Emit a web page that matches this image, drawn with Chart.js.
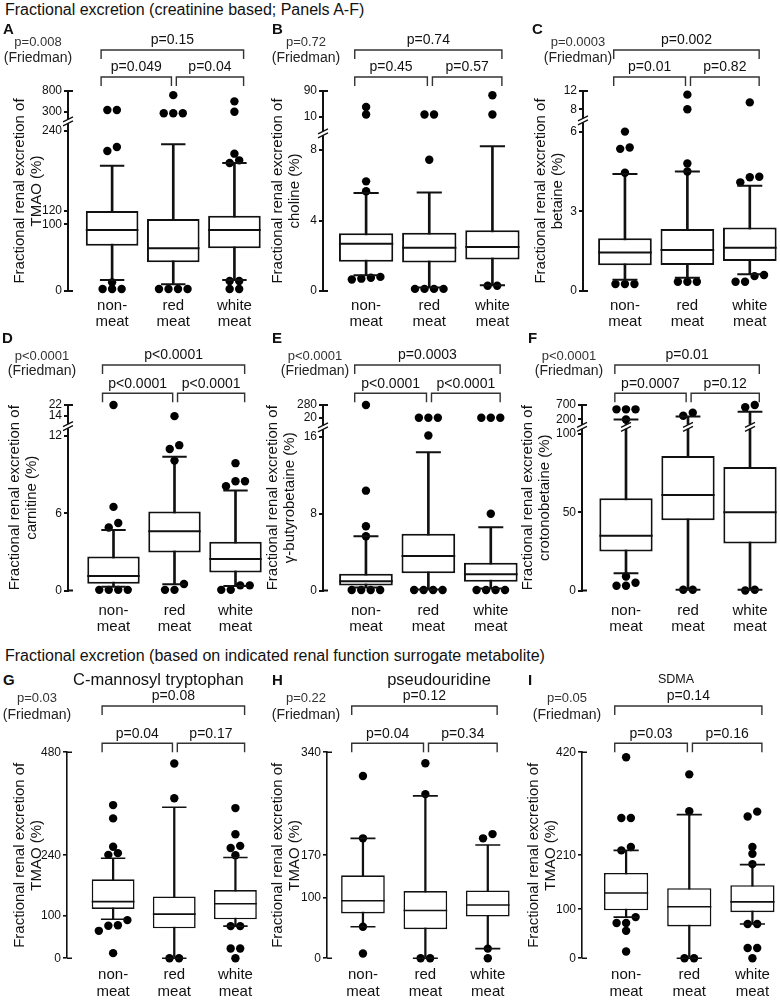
<!DOCTYPE html>
<html>
<head>
<meta charset="utf-8">
<script src="https://cdn.jsdelivr.net/npm/chart.js@4.4.1/dist/chart.umd.min.js"></script>
<style>
  html, body { margin: 0; padding: 0; background: #fff; overflow: hidden; }
  body { position: relative; width: 780px; height: 1001px; font-family: 'Liberation Sans', Arial, sans-serif; color: #111; }
  canvas { position: absolute; }
  .txt { position: absolute; white-space: nowrap; line-height: 1; }
</style>
</head>
<body>
<div class="txt" style="left:5px;top:2px;font-size:16px">Fractional excretion (creatinine based; Panels A-F)</div>
<div class="txt" style="left:5px;top:648px;font-size:16px">Fractional excretion (based on indicated renal function surrogate metabolite)</div>
<script>
const FONT = "'Liberation Sans', Arial, sans-serif";
const groups = [['non-', 'meat'], ['red', 'meat'], ['white', 'meat']];
const axisLead = 'Fractional renal excretion of';

// stats per group: [lower whisker, Q1, median, Q3, upper whisker]
// A - TMAO
const tmaoStats = [[16.5, 68, 91.5, 120, 188], [10, 43, 64, 108, 220], [16.5, 64, 91.5, 113, 192]];
const tmaoOutliers = [[3, 3, 3, 13, 210, 216, 340, 340], [3, 3, 3, 3, 295, 295, 295, 700], [3, 3, 15, 15, 192, 196, 206, 300, 550]];
const tmaoTicks = [0, 100, 120, 240, 300, 800];
const tmaoBreak = [240, 300, 800];
const tmaoPairs = ['p=0.15', 'p=0.049', 'p=0.04'];

// B - choline
const cholineStats = [[0.9, 1.66, 2.68, 3.27, 5.56], [0.2, 1.62, 2.45, 3.3, 5.59], [0.32, 1.79, 2.5, 3.45, 8.22]];
const cholineOutliers = [[0.65, 0.7, 0.75, 0.8, 5.66, 6.22, 17, 40], [0.12, 0.12, 0.12, 0.12, 7.45, 17, 17], [0.3, 0.3, 17, 77]];
const cholineTicks = [0, 4, 8, 10, 90];
const cholineBreak = [8, 10, 90];
const cholinePairs = ['p=0.74', 'p=0.45', 'p=0.57'];

// C - betaine
const betaineStats = [[0.42, 0.97, 1.45, 1.99, 4.4], [0.5, 0.98, 1.54, 2.33, 4.5], [0.63, 1.13, 1.63, 2.39, 3.96]];
const betaineOutliers = [[0.26, 0.26, 0.26, 4.45, 5.35, 5.4, 6.0], [0.35, 0.35, 0.35, 4.5, 4.8, 8, 11.2], [0.35, 0.35, 0.56, 0.6, 4.09, 4.28, 4.3, 9.5]];
const betaineTicks = [0, 3, 6, 8, 12];
const betaineBreak = [6, 8, 12];
const betainePairs = ['p=0.002', 'p=0.01', 'p=0.82'];

// D - carnitine
const carnitineStats = [[0.3, 0.53, 1.13, 2.65, 4.7], [0.48, 2.95, 4.6, 6.15, 10.4], [0.35, 1.39, 2.44, 3.8, 7.77]];
const carnitineOutliers = [[0.05, 0.05, 0.05, 0.05, 4.9, 5.25, 6.5, 22], [0.05, 0.05, 0.5, 10.1, 11.0, 11.3, 14], [0.05, 0.05, 0.4, 0.4, 8.1, 8.5, 8.5, 9.9]];
const carnitineTicks = [0, 6, 12, 14, 22];
const carnitineBreak = [12, 14, 22];
const carnitinePairs = ['p<0.0001', 'p<0.0001', 'p<0.0001'];

// E - gamma-butyrobetaine
const gbbStats = [[0.3, 0.52, 0.97, 1.75, 5.65], [0.1, 1.8, 3.6, 5.9, 14.4], [0.2, 0.9, 1.7, 2.9, 6.6]];
const gbbOutliers = [[0.05, 0.05, 0.05, 0.05, 5.65, 6.7, 10.4, 280], [0.05, 0.05, 0.05, 0.05, 16.3, 20, 20, 20], [0.05, 0.05, 0.05, 0.05, 8, 20, 20, 20]];
const gbbTicks = [0, 8, 16, 20, 280];
const gbbBreak = [16, 20, 280];
const gbbPairs = ['p=0.0003', 'p<0.0001', 'p<0.0001'];

// F - crotonobetaine
const crotonStats = [[11, 25, 35, 59, 200], [0.5, 45, 61, 86, 305], [0.5, 30, 50, 79, 466]];
const crotonOutliers = [[3, 3, 5, 9, 200, 550, 550, 550], [0.5, 0.5, 326, 431], [0, 0.5, 620, 700]];
const crotonTicks = [0, 50, 100, 200, 700];
const crotonBreak = [100, 200, 700];
const crotonPairs = ['p=0.01', 'p=0.0007', 'p=0.12'];

// G - TMAO by C-mannosyl tryptophan
const cmtStats = [[91, 115, 132, 184, 233], [0, 70, 103, 144, 352], [75, 91, 127, 159, 235]];
const cmtOutliers = [[12, 64, 76, 77, 89, 241, 245, 260, 326, 357], [0, 0, 373, 454], [0, 23, 23, 75, 75, 240, 257, 262, 289, 350]];
const cmtTicks = [0, 100, 240, 480];
const cmtPairs = ['p=0.08', 'p=0.04', 'p=0.17'];

// H - TMAO by pseudouridine
const pseudoStats = [[52, 74, 95, 137, 198], [0, 48, 79, 111, 268], [16, 69, 88, 112, 187]];
const pseudoOutliers = [[8, 52, 198, 301], [0, 0, 271, 322], [0, 16, 198, 205]];
const pseudoTicks = [0, 100, 170, 340];
const pseudoPairs = ['p=0.12', 'p=0.04', 'p=0.34'];

// I - TMAO by SDMA
const sdmaStats = [[84, 98, 133, 174, 220], [0, 65, 105, 143, 293], [70, 94, 115, 149, 191]];
const sdmaOutliers = [[14, 56, 72, 72, 84, 220, 227, 286, 286, 410], [0, 0, 300, 375], [0, 21, 21, 70, 70, 192, 213, 227, 289, 299]];
const sdmaTicks = [0, 100, 210, 420];
const sdmaPairs = ['p=0.14', 'p=0.03', 'p=0.16'];

const friedman = ['p=0.008', 'p=0.72', 'p=0.0003', 'p<0.0001', 'p<0.0001', 'p<0.0001', 'p=0.03', 'p=0.22', 'p=0.05'];

// layout
const rows = [
  { top: 28, chartTop: 91, chartBottom: 291, bottom: 340, bTop: 50, bLow: 77, pad: 6.5, boxPct: 0.86, lw: 2, frGap: 15 },
  { top: 340, chartTop: 405, chartBottom: 590.5, bottom: 645, bTop: 365, bLow: 393.3, pad: 11.7, boxPct: 0.86, lw: 2, frGap: 15 },
  { top: 688, chartTop: 752.3, chartBottom: 958.3, bottom: 1001, bTop: 706, bLow: 743.3, pad: 8.8, boxPct: 0.7, lw: 1.6, frGap: 16.5 }
];

const panels = [
  { id: 'A', row: 0, stats: tmaoStats, out: tmaoOutliers, ticks: tmaoTicks, brk: tmaoBreak, frac: [0.8, 0.0965], pairs: tmaoPairs, unit: 'TMAO (%)', left: 8, axis: 68, c0: 112, d: 61, lx: 3, fx: 38 },
  { id: 'B', row: 0, stats: cholineStats, out: cholineOutliers, ticks: cholineTicks, brk: cholineBreak, frac: [0.705, 0.1665], pairs: cholinePairs, unit: 'choline (%)', left: 266, axis: 323, c0: 366, d: 63, lx: 272, fx: 306 },
  { id: 'C', row: 0, stats: betaineStats, out: betaineOutliers, ticks: betaineTicks, brk: betaineBreak, frac: [0.797, 0.112], pairs: betainePairs, unit: 'betaine (%)', left: 529, axis: 583, c0: 625, d: 62.5, lx: 532, fx: 578 },
  { id: 'D', row: 1, stats: carnitineStats, out: carnitineOutliers, ticks: carnitineTicks, brk: carnitineBreak, frac: [0.832, 0.108], pairs: carnitinePairs, unit: 'carnitine (%)', left: 3, axis: 68, c0: 113.5, d: 61, lx: 2, fx: 42 },
  { id: 'E', row: 1, stats: gbbStats, out: gbbOutliers, ticks: gbbTicks, brk: gbbBreak, frac: [0.828, 0.103], pairs: gbbPairs, unit: 'γ-butyrobetaine (%)', left: 261, axis: 323, c0: 366, d: 62.5, lx: 272, fx: 315 },
  { id: 'F', row: 1, stats: crotonStats, out: crotonOutliers, ticks: crotonTicks, brk: crotonBreak, frac: [0.843, 0.079], pairs: crotonPairs, unit: 'crotonobetaine (%)', left: 516, axis: 582, c0: 626, d: 62, lx: 528, fx: 569 },
  { id: 'G', row: 2, stats: cmtStats, out: cmtOutliers, ticks: cmtTicks, pairs: cmtPairs, unit: 'TMAO (%)', left: 8, axis: 67, c0: 113, d: 61, lx: 3, fx: 37, sub: ['C-mannosyl tryptophan', 153, 16.5] },
  { id: 'H', row: 2, stats: pseudoStats, out: pseudoOutliers, ticks: pseudoTicks, pairs: pseudoPairs, unit: 'TMAO (%)', left: 266, axis: 327, c0: 363, d: 62.5, lx: 272, fx: 306, sub: ['pseudouridine', 439, 16.5] },
  { id: 'I', row: 2, stats: sdmaStats, out: sdmaOutliers, ticks: sdmaTicks, pairs: sdmaPairs, unit: 'TMAO (%)', left: 522, axis: 582, c0: 626, d: 63, lx: 528, fx: 567, sub: ['SDMA', 676, 12.5] }
];

function addText(str, x, y, size, extra) {
  const el = document.createElement('div');
  el.className = 'txt';
  el.textContent = str;
  el.style.fontSize = size + 'px';
  el.style.top = (y - size / 2) + 'px';
  if (extra && extra.center) {
    el.style.left = (x - 80) + 'px';
    el.style.width = '160px';
    el.style.textAlign = 'center';
  } else {
    el.style.left = x + 'px';
  }
  if (extra && extra.bold) el.style.fontWeight = 'bold';
  if (extra && extra.color) el.style.color = extra.color;
  document.body.appendChild(el);
}

// maps a value onto 0..1 of the (possibly broken) axis
function makeScale(P) {
  if (!P.brk) {
    const top = P.ticks[P.ticks.length - 1];
    return v => v / top;
  }
  const [L, U, T] = P.brk, [f1, fg] = P.frac, fu = 1 - f1 - fg;
  return v => v <= L ? v / L * f1 : v < U ? f1 + (v - L) / (U - L) * fg : f1 + fg + (v - U) / (T - U) * fu;
}

// put outliers that would overlap side by side
function spread(values, tf, h, step) {
  const pts = values.map(v => ({ v, f: tf(v) })).sort((a, b) => a.f - b.f);
  const res = [];
  let cl = [];
  const flush = () => {
    cl.forEach((p, k) => res.push({ v: p.v, dx: (k - (cl.length - 1) / 2) * step }));
    cl = [];
  };
  pts.forEach(p => {
    if (cl.length && (p.f - cl[cl.length - 1].f) * h > 6) flush();
    cl.push(p);
  });
  flush();
  return res;
}

function extras(P, R, tf) {
  const gapMid = P.brk ? P.frac[0] + P.frac[1] / 2 : null;
  const slashes = (ctx, cx, cy) => {
    ctx.save();
    ctx.fillStyle = '#fff';
    ctx.fillRect(cx - 6, cy - 2, 12, 4);
    ctx.lineWidth = 1.3;
    ctx.beginPath();
    [-2, 2].forEach(o => { ctx.moveTo(cx - 5, cy + o + 2.5); ctx.lineTo(cx + 5, cy + o - 2.5); });
    ctx.stroke();
    ctx.restore();
  };
  return {
    id: 'boxExtras',
    afterDatasetsDraw(chart) {
      const { ctx, chartArea: a, scales: { x, y } } = chart;
      const boxes = chart.getDatasetMeta(1).data;
      ctx.save();
      ctx.strokeStyle = '#111';
      ctx.lineWidth = R.lw;
      P.stats.forEach((s, i) => {
        const cx = x.getPixelForValue(i);
        const hw = boxes[i].width / 2;
        const cw = P.d * 0.2;
        ctx.beginPath();
        const ym = y.getPixelForValue(tf(s[2]));
        ctx.moveTo(cx - hw, ym);
        ctx.lineTo(cx + hw, ym);
        [s[0], s[4]].forEach(v => {
          const yy = y.getPixelForValue(tf(v));
          ctx.moveTo(cx - cw, yy);
          ctx.lineTo(cx + cw, yy);
        });
        ctx.stroke();
        if (P.brk && s[3] < P.brk[0] && s[4] >= P.brk[1]) slashes(ctx, cx, y.getPixelForValue(gapMid));
      });
      ctx.beginPath();
      ctx.moveTo(a.left, a.top); ctx.lineTo(a.left + 5, a.top);
      ctx.moveTo(a.left, a.bottom); ctx.lineTo(a.left + 5, a.bottom);
      ctx.stroke();
      if (P.brk) slashes(ctx, a.left, y.getPixelForValue(gapMid));

      // comparison brackets
      ctx.lineWidth = 1.4;
      ctx.strokeStyle = '#333';
      ctx.fillStyle = '#111';
      ctx.font = '14px ' + FONT;
      ctx.textAlign = 'center';
      ctx.textBaseline = 'middle';
      const xs = [-0.18, 0.97, 1.05, 2.15].map(v => x.getPixelForValue(v));
      const yT = R.bTop - R.top, yL = R.bLow - R.top;
      [[xs[0], xs[3], yT], [xs[0], xs[1], yL], [xs[2], xs[3], yL]].forEach(([x1, x2, yy], k) => {
        ctx.beginPath();
        ctx.moveTo(x1, yy + 9); ctx.lineTo(x1, yy); ctx.lineTo(x2, yy); ctx.lineTo(x2, yy + 9);
        ctx.stroke();
        ctx.fillText(P.pairs[k], (x1 + x2) / 2, yy - 9.5);
      });
      ctx.restore();
    }
  };
}

panels.forEach((P, n) => {
  const R = rows[P.row];
  const tf = makeScale(P);
  const chartH = R.chartBottom - R.chartTop;
  const w = Math.round(P.c0 + 2.5 * P.d - P.left);
  const h = Math.round(R.bottom - R.top);
  const cv = document.createElement('canvas');
  cv.width = w; cv.height = h;
  cv.style.left = P.left + 'px';
  cv.style.top = R.top + 'px';
  cv.style.width = w + 'px';
  cv.style.height = h + 'px';
  document.body.appendChild(cv);

  const pts = [];
  P.out.forEach((vals, i) => {
    spread(vals, tf, chartH, 9.5 / P.d).forEach(p => pts.push({ x: i + p.dx, y: tf(p.v) }));
  });

  new Chart(cv, {
    type: 'bar',
    data: {
      datasets: [
        { type: 'bar', data: P.stats.map((s, i) => ({ x: i, y: [tf(s[0]), tf(s[4])] })), backgroundColor: '#111', barThickness: R.lw, grouped: false, order: 3 },
        { type: 'bar', data: P.stats.map((s, i) => ({ x: i, y: [tf(s[1]), tf(s[3])] })), backgroundColor: '#fff', borderColor: '#111', borderWidth: R.lw, borderSkipped: false, grouped: false, barPercentage: R.boxPct, categoryPercentage: 1, order: 2 },
        { type: 'scatter', data: pts, pointRadius: 4.2, pointBackgroundColor: '#000', pointBorderWidth: 0, clip: false, order: 1 }
      ]
    },
    options: {
      responsive: false,
      animation: false,
      devicePixelRatio: 1,
      events: [],
      layout: { padding: { top: R.chartTop - R.top, left: 0, right: 0, bottom: 0 }, autoPadding: false },
      plugins: { legend: { display: false }, tooltip: { enabled: false } },
      scales: {
        x: {
          type: 'linear', bounds: 'data', offset: false, min: -(P.c0 - P.axis) / P.d, max: 2.5,
          grid: { display: false, drawTicks: false, offset: false },
          border: { display: false },
          ticks: { font: { size: 15, family: FONT, lineHeight: 1.1 }, color: '#111', padding: R.pad, autoSkip: false, maxRotation: 0, callback: (v, i) => groups[i] },
          afterBuildTicks: s => { s.ticks = [0, 1, 2].map(v => ({ value: v })); },
          afterFit: s => { s.height = R.bottom - R.chartBottom; s.paddingLeft = 0; s.paddingRight = 0; }
        },
        y: {
          type: 'linear', bounds: 'data', min: 0, max: 1,
          grid: { display: true, drawOnChartArea: false, drawTicks: true, tickLength: 4, color: '#111', lineWidth: R.lw },
          border: { display: true, color: '#111', width: R.lw },
          ticks: { font: { size: 12, family: FONT }, color: '#111', padding: 2, autoSkip: false, callback: (v, i) => String(P.ticks[i]) },
          title: { display: true, text: [axisLead, P.unit], color: '#111', font: { size: 15, family: FONT, lineHeight: 1.1 }, padding: { top: 4, bottom: 0 } },
          afterBuildTicks: s => { s.ticks = P.ticks.map(v => ({ value: tf(v) })); },
          afterFit: s => { s.width = P.axis - P.left; s.paddingTop = 0; s.paddingBottom = 0; }
        }
      }
    },
    plugins: [extras(P, R, tf)]
  });

  const fy = [41.7, 355, 697][P.row];
  addText(P.id, P.lx, [28, 337.5, 679][P.row], 15, { bold: true });
  addText(friedman[n], P.fx, fy, 13, { center: true, color: '#333' });
  addText('(Friedman)', P.fx, fy + R.frGap, 14, { center: true, color: '#222' });
  if (P.sub) addText(P.sub[0], P.sub[1], 679, P.sub[2], { center: true });
});
</script>
</body>
</html>
